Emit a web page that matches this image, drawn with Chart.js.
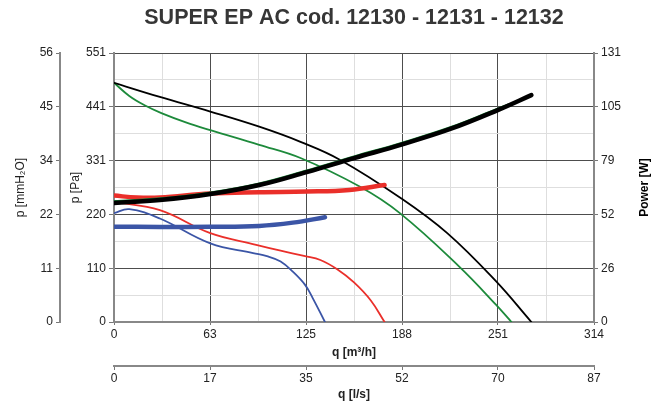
<!DOCTYPE html>
<html>
<head>
<meta charset="utf-8">
<script src="https://cdn.jsdelivr.net/npm/chart.js@4"></script>
<style>
html,body{margin:0;padding:0;background:#fff;}
#wrap{width:667px;height:405px;}
</style>
</head>
<body>
<div id="wrap"><canvas id="c" width="667" height="405"></canvas></div>
<script>
const TITLE = 'SUPER EP AC cod. 12130 - 12131 - 12132';

// Tick labels
const qM3hLabels = ['0', '63', '125', '188', '251', '314'];
const qLsLabels = ['0', '17', '35', '52', '70', '87'];
const paLabels = ['0', '110', '220', '331', '441', '551'];
const mmLabels = ['0', '11', '22', '34', '45', '56'];
const wLabels = ['0', '26', '52', '79', '105', '131'];

// Pressure curves (q in m3/h, p in Pa)
const qBlackP = [0, 30, 63, 95, 122, 148, 188, 218, 250, 273];
const pBlack  = [490, 461, 431, 400, 369, 332, 253, 182, 83, 0];
const qGreenP = [0, 10, 20, 31, 47, 63, 95, 122, 161, 187, 226, 250, 260];
const pGreen  = [490, 463, 444, 428, 409, 393, 363, 336, 277, 223, 113, 35, 0];
const qRedP   = [0, 30, 63, 93, 109, 125, 135, 146, 157, 168, 177];
const pRed    = [246, 229, 182, 158, 146, 135, 127, 108, 81, 44, 0];
const qBlueP  = [0, 10, 30, 63, 91, 100, 109, 117, 125, 130, 138];
const pBlue   = [223, 231, 212, 161, 141, 135, 124, 103, 76, 49, 0];

// Power curves (q in m3/h, power in W)
const qBlackW = [0, 30, 63, 95, 126, 157, 188, 220, 251, 273];
const wBlack  = [58, 59.4, 62.3, 66.7, 73, 79.8, 86.4, 94, 103.2, 110.5];
const qGreenW = [0, 30, 63, 95, 126, 157, 188, 220, 251, 258];
const wGreen  = [58.8, 60.1, 63, 67.4, 73.7, 80.5, 87.1, 94.7, 103.8, 105.8];
const qRedW   = [0, 15, 30, 63, 95, 126, 154, 177];
const wRed    = [61.6, 60.6, 60.6, 62.6, 63.2, 63.5, 64.3, 66.7];
const qBlueW  = [0, 30, 63, 95, 117, 138];
const wBlue   = [46.4, 46.3, 46.4, 46.8, 48.4, 51];

const pts = (xs, ys) => xs.map((x, i) => ({x: x, y: ys[i]}));

const C_BLACK = '#000000', C_GREEN = '#1d8a3b', C_RED = '#ea2f2a', C_BLUE = '#3b55a6';
const FONT = '"Liberation Sans", Arial, Helvetica, sans-serif';

function line(label, data, color, width, yAxis) {
  return {
    label, data, borderColor: color, backgroundColor: color, borderWidth: width,
    pointRadius: 0, pointHoverRadius: 0, fill: false, tension: 0.4,
    borderCapStyle: 'round', borderJoinStyle: 'round', xAxisID: 'x', yAxisID: yAxis
  };
}

const majorColor = c => c.index % 2 === 0 ? '#4d4d4d' : '#dedede';
const majorTick = c => c.index % 2 === 0 ? '#777777' : 'rgba(0,0,0,0)';
const lbl = arr => (v, i) => i % 2 === 0 ? arr[i / 2] : '';

const textPlugin = {
  id: 'textPlugin',
  afterDraw(chart) {
    const ctx = chart.ctx, a = chart.chartArea;
    ctx.save();
    ctx.fillStyle = '#363636';
    ctx.font = 'bold 21.5px ' + FONT;
    ctx.textAlign = 'center';
    ctx.textBaseline = 'middle';
    ctx.fillText(TITLE, (a.left + a.right) / 2, 18);
    ctx.translate(645, (a.top + a.bottom) / 2);
    ctx.rotate(-Math.PI / 2);
    ctx.fillStyle = '#000';
    ctx.font = 'bold 12px ' + FONT;
    ctx.fillText('Power [W]', 0, 0);
    ctx.restore();
  }
};

new Chart(document.getElementById('c'), {
  type: 'line',
  data: {
    datasets: [
      line('Power black', pts(qBlackW, wBlack), C_BLACK, 4.5, 'yW'),
      line('Power green', pts(qGreenW, wGreen), C_GREEN, 2.5, 'yW'),
      line('Power red', pts(qRedW, wRed), C_RED, 4.5, 'yW'),
      line('Power blue', pts(qBlueW, wBlue), C_BLUE, 4.5, 'yW'),
      line('p black', pts(qBlackP, pBlack), C_BLACK, 1.8, 'y'),
      line('p green', pts(qGreenP, pGreen), C_GREEN, 1.8, 'y'),
      line('p red', pts(qRedP, pRed), C_RED, 1.8, 'y'),
      line('p blue', pts(qBlueP, pBlue), C_BLUE, 1.8, 'y')
    ]
  },
  options: {
    responsive: false,
    animation: false,
    layout: { padding: { top: 53, left: 0, right: 0, bottom: 0 } },
    plugins: { legend: { display: false }, title: { display: false }, tooltip: { enabled: false } },
    scales: {
      x: {
        type: 'linear', position: 'bottom', weight: 0, min: 0, max: 314,
        afterFit: s => { s.height = 44; },
        grid: { color: majorColor, tickColor: majorTick, tickLength: 3, lineWidth: 1 },
        border: { color: '#888', width: 2 },
        ticks: { count: 11, autoSkip: false, maxRotation: 0, padding: 2, color: '#222', font: { family: FONT, size: 12 }, callback: lbl(qM3hLabels) },
        title: { display: true, text: 'q [m³/h]', color: '#222', font: { family: FONT, size: 12, weight: 'bold' }, padding: { top: 0, bottom: 6 } }
      },
      x2: {
        type: 'linear', position: 'bottom', weight: 1, min: 0, max: 87,
        afterFit: s => { s.height = 39; },
        grid: { drawOnChartArea: false, color: majorTick, tickColor: majorTick, tickLength: 4 },
        border: { color: '#888', width: 2 },
        ticks: { count: 11, autoSkip: false, maxRotation: 0, padding: 1, color: '#222', font: { family: FONT, size: 12 }, callback: lbl(qLsLabels) },
        title: { display: true, text: 'q [l/s]', color: '#222', font: { family: FONT, size: 12, weight: 'bold' }, padding: { top: 0, bottom: 3 } }
      },
      y: {
        type: 'linear', position: 'left', weight: 0, min: 0, max: 551,
        afterFit: s => { s.width = 54; },
        grid: { color: majorColor, tickColor: majorTick, tickLength: 5, lineWidth: 1 },
        border: { color: '#888', width: 2 },
        ticks: { count: 11, autoSkip: false, padding: 3, color: '#222', font: { family: FONT, size: 12 }, callback: lbl(paLabels) },
        title: { display: true, text: 'p [Pa]', color: '#222', font: { family: FONT, size: 12 }, padding: { top: 8, bottom: 0 } }
      },
      y2: {
        type: 'linear', position: 'left', weight: 1, min: 0, max: 56,
        afterFit: s => { s.width = 60; },
        grid: { drawOnChartArea: false, color: majorTick, tickColor: majorTick, tickLength: 4 },
        border: { color: '#888', width: 2 },
        ticks: { count: 11, autoSkip: false, padding: 3, color: '#222', font: { family: FONT, size: 12 }, callback: lbl(mmLabels) },
        title: { display: true, text: 'p [mmH₂O]', color: '#222', font: { family: FONT, size: 12 }, padding: { top: 13, bottom: 0 } }
      },
      yW: {
        type: 'linear', position: 'right', min: 0, max: 131,
        afterFit: s => { s.width = 73; },
        grid: { drawOnChartArea: false, color: majorTick, tickColor: majorTick, tickLength: 4 },
        border: { color: '#888', width: 2 },
        ticks: { count: 11, autoSkip: false, padding: 3, color: '#222', font: { family: FONT, size: 12 }, callback: lbl(wLabels) }
      }
    }
  },
  plugins: [textPlugin]
});
</script>
</body>
</html>
